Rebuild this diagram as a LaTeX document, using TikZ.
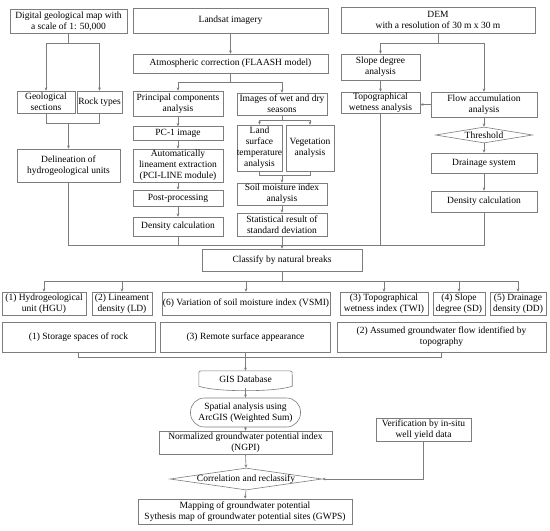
\documentclass[tikz,border=0pt]{standalone}
\usepackage{fontspec}
\setmainfont{Liberation Serif}
\usetikzlibrary{arrows.meta,shapes.geometric,calc}
\definecolor{linegray}{RGB}{125,125,125}
\begin{document}
\begin{tikzpicture}[x=1pt,y=-1pt,
  ln/.style={draw=linegray, line width=0.6pt},
  arr/.style={ln, -{Stealth[length=3.2pt,width=2.8pt]}},
  sz/.style 2 args={minimum width=#1pt, minimum height=#2pt},
  txt/.style={align=center, inner sep=0pt, font=\fontsize{9.5}{11}\selectfont, text=black},
  box/.style={txt, rectangle, draw=linegray, line width=0.6pt},
  dia/.style={diamond, draw=linegray, line width=0.6pt, inner sep=0pt},
  stadium/.style={box, rounded corners=14pt},
]
\useasboundingbox (0,0) rectangle (550,531);
\fill[white] (0,0) rectangle (550,531);

% top row
\node[box,sz={117}{24}] (geo) at (68.5,21) {Digital geological map with\\a scale of 1: 50,000};
\node[box,sz={195}{25}] (landsat) at (230.5,20.5) {Landsat imagery};
\node[box,sz={194}{26}] (dem) at (438,20) {DEM\\with a resolution of 30 m x 30 m};
\node[box,sz={195}{19}] (atm) at (230.5,63.5) {Atmospheric correction (FLAASH model)};
\node[box,sz={79}{26}] (slope) at (380.5,67) {Slope degree\\analysis};

% second row
\node[box,sz={58}{22}] (geosec) at (46,102) {Geological\\sections};
\node[box,sz={45}{22}] (rock) at (99.5,102) {Rock types};
\node[box,sz={90}{25}] (pca) at (178,103.5) {Principal components\\analysis};
\node[box,sz={90}{22}] (wet) at (282,104) {Images of wet and dry\\seasons};
\node[box,sz={79}{21}] (twa) at (380.5,102.5) {Topographical\\wetness analysis};
\node[box,sz={106}{25}] (flow) at (484,104.5) {Flow accumulation\\analysis};

% middle
\node[box,sz={90}{14}] (pc1) at (178,133.5) {PC-1 image};
\node[box,sz={45}{46}] (land) at (259.5,148) {Land\\surface\\temperature\\analysis};
\node[box,sz={48}{46}] (veg) at (310,148) {Vegetation\\analysis};
\node[dia,sz={97}{16}] (thr) at (484,135) {};
\node[txt] (thrt) at (thr.center) {Threshold};
\node[box,sz={103}{33}] (delin) at (68.5,165.5) {Delineation of\\hydrogeological units};
\node[box,sz={90}{33}] (auto) at (178,165.5) {Automatically\\lineament extraction\\(PCI-LINE module)};
\node[box,sz={106}{20}] (drain) at (484,163) {Drainage system};
\node[box,sz={90}{22}] (soil) at (282,194) {Soil moisture index\\analysis};
\node[box,sz={90}{16}] (post) at (178,198) {Post-processing};
\node[box,sz={90}{19}] (dens1) at (178,226.5) {Density calculation};
\node[box,sz={90}{23}] (stat) at (282,224.5) {Statistical result of\\standard deviation};
\node[box,sz={106}{21}] (dens2) at (484,201.5) {Density calculation};

\node[box,sz={160}{22}] (classify) at (282,260) {Classify by natural breaks};

% factors
\node[box,sz={84}{23}] (hgu) at (44,303.5) {(1) Hydrogeological\\unit (HGU)};
\node[box,sz={60}{23}] (ld) at (122,303.5) {(2) Lineament\\density (LD)};
\node[box,sz={168}{23}] (vsmi) at (246,303.5) {(6) Variation of soil moisture index (VSMI)};
\node[box,sz={88}{23}] (twi) at (384,303.5) {(3) Topographical\\wetness index (TWI)};
\node[box,sz={52}{23}] (sd) at (459,303.5) {(4) Slope\\degree (SD)};
\node[box,sz={56}{23}] (dd) at (518,303.5) {(5) Drainage\\density (DD)};

% categories
\node[box,sz={153}{30}] (storage) at (78.5,337) {(1) Storage spaces of rock};
\node[box,sz={170}{30}] (remote) at (245.5,337) {(3) Remote surface appearance};
\node[box,sz={209}{30}] (assumed) at (441.5,337) {(2) Assumed groundwater flow identified by\\topography};

% bottom
\node[txt,sz={93}{17}] (gis) at (245.5,379.5) {GIS Database};
\draw[ln] ($(gis.north west)+(0,4)$) .. controls (gis.north west) .. ($(gis.north west)+(6,0)$)
  -- ($(gis.north east)+(-6,0)$) .. controls (gis.north east) .. ($(gis.north east)+(0,4)$)
  -- ($(gis.south east)+(0,-2)$) .. controls ($(gis.south)+(30,4)$) and ($(gis.south)+(-30,4)$) .. ($(gis.south west)+(0,-2)$) -- cycle;
\node[stadium,sz={110}{29}] (spatial) at (245.5,412.5) {Spatial analysis using\\ArcGIS (Weighted Sum)};
\node[box,sz={173}{23}] (ngpi) at (245.5,442.5) {Normalized groundwater potential index\\(NGPI)};
\node[dia,sz={152}{22}] (corr) at (246,479) {};
\node[txt] (corrt) at (corr.center) {Correlation and reclassify};
\node[box,sz={95}{23}] (verif) at (423.5,429.5) {Verification by in-situ\\well yield data};
\node[box,sz={214}{25}] (mapping) at (245,511.5) {Mapping of groundwater potential\\Sythesis map of groundwater potential sites (GWPS)};

% connectors: geology
\draw[ln] (geo.south) -- ++(0,10) coordinate (g1);
\draw[arr] (g1) -| (geosec.north);
\draw[arr] (g1) -| (rock.north);
\draw[ln] (geosec.south) -- ++(0,10) -| (rock.south);
\coordinate (g2) at (68.5,123);
\draw[arr] (g2) -- (delin.north);

% bus to classify
\coordinate (busy) at (0,245);
\draw[ln] (delin.south) -- (delin.south |- busy) -- (dens2.south |- busy) -- (dens2.south);
\draw[ln] (dens1.south) -- (dens1.south |- busy);
\draw[ln] (twa.south) -- (twa.south |- busy);
\draw[arr] (stat.south) -- (classify.north);

% Landsat
\draw[arr] (landsat.south) -- (atm.north);
\draw[ln] (atm.south) -- ++(0,9) coordinate (a1);
\draw[arr] (a1) -| (pca.north);
\draw[arr] (a1) -| (wet.north);
\draw[arr] (pca.south) -- (pc1.north);
\draw[arr] (pc1.south) -- (auto.north);
\draw[arr] (auto.south) -- (post.north);
\draw[arr] (post.south) -- (dens1.north);
\draw[ln] (wet.south) -- ++(0,5) coordinate (w1);
\draw[arr] (w1) -| (land.north);
\draw[arr] (w1) -| (veg.north);
\draw[ln] (land.south) -- ++(0,4) -| (veg.south);
\coordinate (lv) at (282,175);
\draw[arr] (lv) -- (soil.north);
\draw[arr] (soil.south) -- (stat.north);

% DEM
\draw[ln] (dem.south) -- ++(0,10) coordinate (d1);
\draw[arr] (d1) -| (slope.north);
\draw[arr] (d1) -| (flow.north);
\draw[arr] (slope.south) -- (twa.north);
\draw[arr] (flow.west) -- (flow.west -| twa.east);
\draw[arr] (flow.south) -- (thr.north);
\draw[arr] (thr.south) -- (drain.north);
\draw[arr] (drain.south) -- (dens2.north);

% classify to factors
\draw[ln] (classify.south) -- ++(0,10) coordinate (c1);
\draw[ln] (hgu.north |- c1) -- (dd.north |- c1);
\foreach \n in {hgu,ld,vsmi,twi,sd,dd} \draw[arr] (\n.north |- c1) -- (\n.north);

% categories to GIS
\coordinate (cy) at (0,357);
\draw[ln] (storage.south) -- (storage.south |- cy) -- (assumed.south |- cy) -- (assumed.south);
\draw[ln] (remote.south) -- (remote.south |- cy);
\draw[arr] (remote.south |- cy) -- (gis.north);
\draw[arr] (gis.south) -- (spatial.north);
\draw[arr] (spatial.south) -- (ngpi.north);
\draw[arr] (ngpi.south) -- (corr.north);
\draw[arr] (corr.south) -- (mapping.north);
\draw[arr] (verif.south) |- (corr.east);
\end{tikzpicture}
\end{document}
